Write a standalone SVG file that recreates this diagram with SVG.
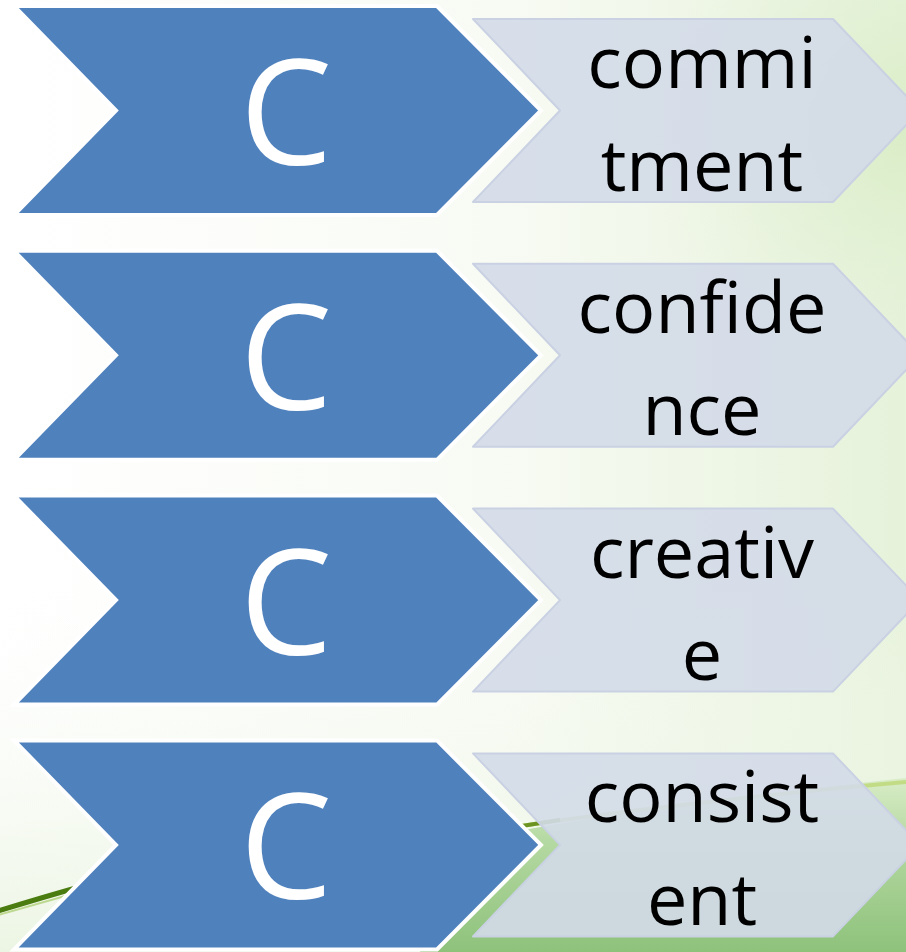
<svg xmlns="http://www.w3.org/2000/svg" width="906" height="952" viewBox="0 0 906 952">
<defs>
<linearGradient id="bgH" x1="0" y1="0" x2="1" y2="0">
<stop offset="0" stop-color="#ffffff"/>
<stop offset="0.55" stop-color="#f8fbf4"/>
<stop offset="1" stop-color="#e6f2da"/>
</linearGradient>
<radialGradient id="bgTR" cx="906" cy="130" r="260" gradientUnits="userSpaceOnUse">
<stop offset="0" stop-color="#d9edc6" stop-opacity="1"/>
<stop offset="1" stop-color="#e6f2da" stop-opacity="0"/>
</radialGradient>
<linearGradient id="bgBL" x1="0" y1="0" x2="0" y2="1">
<stop offset="0" stop-color="#ffffff" stop-opacity="0"/>
<stop offset="1" stop-color="#e4f1d8" stop-opacity="1"/>
</linearGradient>
<linearGradient id="grass" x1="0" y1="780" x2="0" y2="952" gradientUnits="userSpaceOnUse">
<stop offset="0" stop-color="#d8ecc6"/>
<stop offset="0.35" stop-color="#b5d9a2"/>
<stop offset="1" stop-color="#8ec27b"/>
</linearGradient>
<style>
.blue{fill:#4f81bd;stroke:#ffffff;stroke-width:4;stroke-linejoin:miter}
.light{fill:#d3dae8;fill-opacity:0.9;stroke:#c9d1e3;stroke-width:2;stroke-linejoin:round}
.big{font-family:"Open Sans","Liberation Sans",sans-serif;font-size:147px;fill:#ffffff;text-anchor:middle}
.lbl{font-family:"Open Sans","Liberation Sans",sans-serif;font-size:72px;fill:#000000;text-anchor:middle}
</style>
</defs>
<g id="background">
<rect width="906" height="952" fill="url(#bgH)"/>
<rect width="906" height="952" fill="url(#bgTR)"/>
<rect x="0" y="560" width="906" height="392" fill="url(#bgBL)" opacity="0.7"/>
<path d="M470 840 Q 650 805 906 778 L906 952 L420 952 Z" fill="url(#grass)"/>
<path d="M520 826 Q 700 800 906 782" fill="none" stroke="#c2dc86" stroke-width="4"/>
<path d="M522 826 Q 540 823 560 820" fill="none" stroke="#6d9421" stroke-width="4"/>
<path d="M-5 912 Q 40 898 90 884" fill="none" stroke="#4b7c10" stroke-width="5" stroke-linecap="round"/>
<path d="M-5 916 Q 40 903 90 889" fill="none" stroke="#a6cc6a" stroke-width="2" opacity="0.7"/>
</g>
<g id="node1">
<path class="blue" d="M14 6 L437 6 L541 110.5 L437 215 L14 215 L116 110.5 Z"/>
<path class="light" d="M473 19 L833 19 L920 110.5 L833 202 L473 202 L560 110.5 Z"/>
<text class="big" x="286" y="165">C</text>
<text class="lbl" x="702" y="88">commi</text>
<text class="lbl" x="702" y="190.5">tment</text>
</g>
<g id="node2">
<path class="blue" d="M14 250.8 L437 250.8 L541 355.3 L437 459.8 L14 459.8 L116 355.3 Z"/>
<path class="light" d="M473 263.8 L833 263.8 L920 355.3 L833 446.8 L473 446.8 L560 355.3 Z"/>
<text class="big" x="286" y="409.8">C</text>
<text class="lbl" x="702" y="332.8">confide</text>
<text class="lbl" x="702" y="435.3">nce</text>
</g>
<g id="node3">
<path class="blue" d="M14 495.6 L437 495.6 L541 600.1 L437 704.6 L14 704.6 L116 600.1 Z"/>
<path class="light" d="M473 508.6 L833 508.6 L920 600.1 L833 691.6 L473 691.6 L560 600.1 Z"/>
<text class="big" x="286" y="654.6">C</text>
<text class="lbl" x="702" y="577.6">creativ</text>
<text class="lbl" x="702" y="680.1">e</text>
</g>
<g id="node4">
<path class="blue" d="M14 740.4 L437 740.4 L541 844.9 L437 949.4 L14 949.4 L116 844.9 Z"/>
<path class="light" d="M473 753.4 L833 753.4 L920 844.9 L833 936.4 L473 936.4 L560 844.9 Z"/>
<text class="big" x="286" y="899.4">C</text>
<text class="lbl" x="702" y="822.4">consist</text>
<text class="lbl" x="702" y="924.9">ent</text>
</g>
<g id="connectors"></g>
</svg>
